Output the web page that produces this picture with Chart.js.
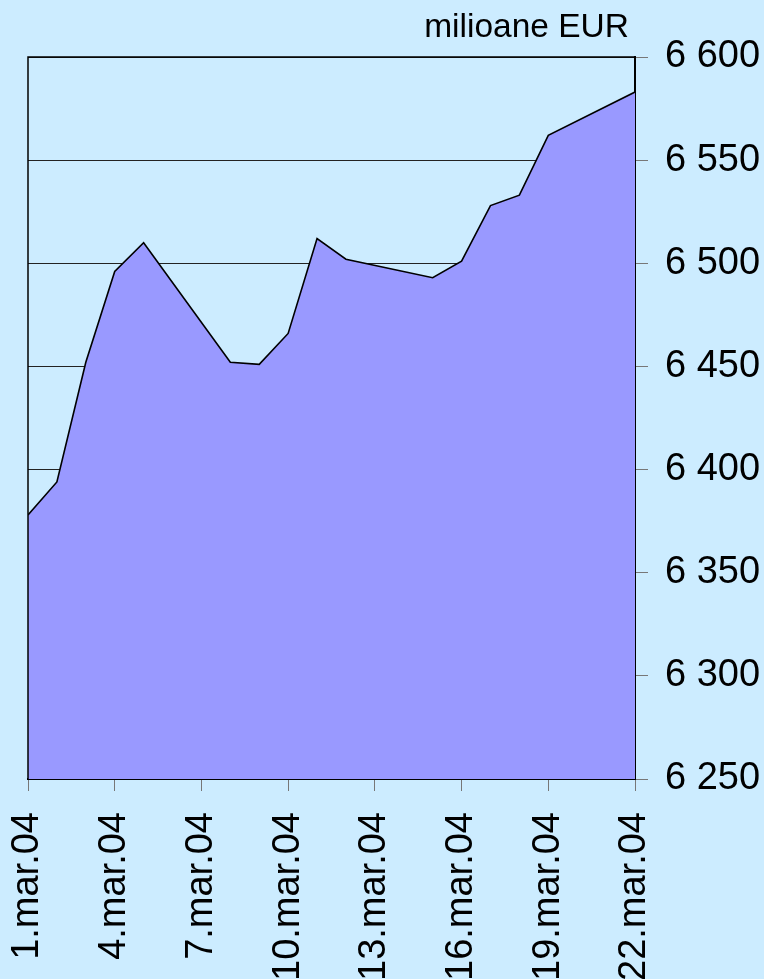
<!DOCTYPE html>
<html>
<head>
<meta charset="utf-8">
<script src="https://cdn.jsdelivr.net/npm/chart.js@4.4.1/dist/chart.umd.min.js"></script>
<style>
  body { margin: 0; background: #ccecff; }
  canvas { display: block; }
</style>
</head>
<body>
<canvas id="myChart" width="764" height="979"></canvas>
<script>
// days of March 2004 (business days only)
const days = [1, 2, 3, 4, 5, 8, 9, 10, 11, 12, 15, 16, 17, 18, 19, 22];
// millions EUR
const values = [6378, 6394, 6452, 6496, 6510, 6452, 6451, 6466, 6512, 6502, 6493, 6501, 6528, 6533, 6562, 6583];
const yTicks = [6250, 6300, 6350, 6400, 6450, 6500, 6550, 6600];
const unitLabel = 'milioane EUR';

const fontFamily = "Arial, 'Liberation Sans', sans-serif";

const points = days.map(function (d, i) { return { x: d, y: values[i] }; });

function fmtThousands(v) {
  const s = String(Math.round(v));
  return s.replace(/\B(?=(\d{3})+(?!\d))/g, ' ');
}

// frame round the plot area + unit label on top
const framePlugin = {
  id: 'frame',
  afterDatasetsDraw(chart) {
    const ctx = chart.ctx;
    const a = chart.chartArea;
    ctx.save();
    ctx.strokeStyle = '#000';
    ctx.lineWidth = 1.5;
    ctx.beginPath();
    ctx.moveTo(a.left, a.bottom);
    ctx.lineTo(a.left, a.top);
    ctx.lineTo(a.right, a.top);
    ctx.stroke();
    ctx.restore();
  },
  afterDraw(chart) {
    const ctx = chart.ctx;
    ctx.save();
    ctx.fillStyle = '#000';
    ctx.font = '33.5px ' + fontFamily;
    ctx.textAlign = 'right';
    ctx.textBaseline = 'alphabetic';
    ctx.fillText(unitLabel, chart.chartArea.right - 6, 37);
    ctx.restore();
  }
};

const ctx = document.getElementById('myChart');
const myChart = new Chart(ctx, {
  type: 'line',
  data: {
    datasets: [{
      data: points,
      borderColor: '#000',
      borderWidth: 1.6,
      backgroundColor: '#9999ff',
      fill: 'start',
      pointRadius: 0,
      tension: 0
    }]
  },
  options: {
    responsive: false,
    animation: false,
    layout: { padding: { top: 57, left: 28, right: 0, bottom: 0 } },
    plugins: {
      legend: { display: false },
      tooltip: { enabled: false }
    },
    scales: {
      x: {
        type: 'linear',
        min: 1,
        max: 22,
        afterFit: function (scale) { scale.height = 200; },
        grid: {
          drawOnChartArea: false,
          tickLength: 12,
          tickColor: '#777'
        },
        border: { color: '#000', width: 2 },
        ticks: {
          stepSize: 3,
          autoSkip: false,
          maxRotation: 90,
          minRotation: 90,
          padding: 21,
          color: '#000',
          font: { family: fontFamily, size: 38 },
          callback: function (v) { return v + '.mar.04'; }
        }
      },
      y: {
        position: 'right',
        min: yTicks[0],
        max: yTicks[yTicks.length - 1],
        afterFit: function (scale) { scale.width = 129; },
        afterBuildTicks: function (scale) {
          scale.ticks = yTicks.map(function (v) { return { value: v }; });
        },
        grid: {
          color: '#222',
          lineWidth: 1,
          tickLength: 13,
          tickColor: '#777'
        },
        border: { color: '#000', width: 2 },
        ticks: {
          padding: 17,
          color: '#000',
          font: { family: fontFamily, size: 38 },
          callback: function (v) { return fmtThousands(v); }
        }
      }
    }
  },
  plugins: [framePlugin]
});
</script>
</body>
</html>
